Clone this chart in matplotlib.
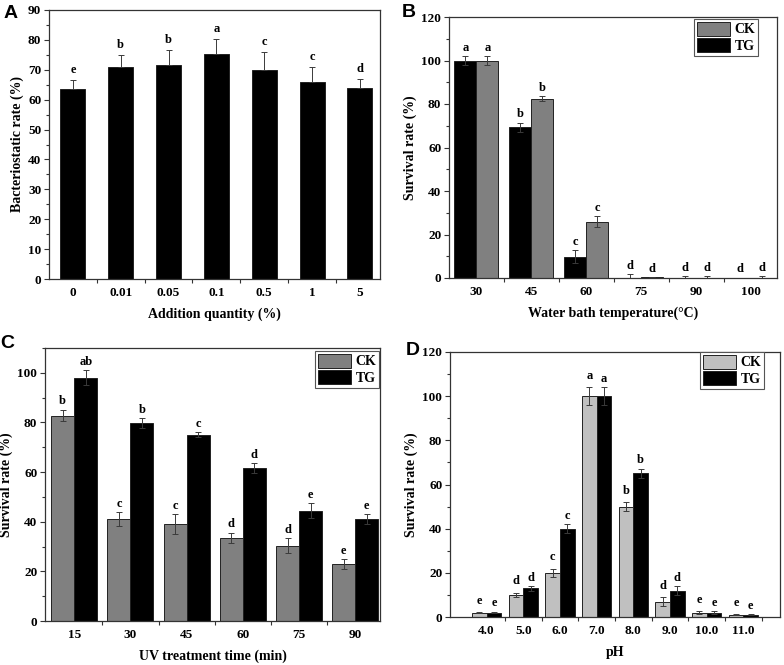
"""
Four-panel bar chart: bacteriostatic rate and survival rates (CK vs TG)
"""

import numpy as np
import matplotlib
matplotlib.use('Agg')
import matplotlib.pyplot as plt
from matplotlib.ticker import MultipleLocator

plt.rcParams['font.family'] = ['Liberation Serif', 'DejaVu Serif']
plt.rcParams['font.weight'] = 'bold'
plt.rcParams['axes.labelweight'] = 'bold'

# ---- panel A data ----
add_qty = ['0', '0.01', '0.05', '0.1', '0.5', '1', '5']
bacteriostatic = [63.5, 70.9, 71.7, 75.3, 69.9, 65.9, 63.9]
bacteriostatic_err = [3.0, 4.0, 5.0, 5.0, 6.0, 5.0, 3.0]
letters_a = ['e', 'b', 'b', 'a', 'c', 'c', 'd']

# ---- panel B data ----
water_temp = ['30', '45', '60', '75', '90', '100']
b_tg = [100.0, 69.3, 9.8, 0.0, 0.0, 0.0]
b_tg_err = [2.0, 2.0, 3.0, 1.7, 0.8, 0.0]
b_ck = [100.0, 82.5, 25.9, 0.3, 0.0, 0.0]
b_ck_err = [2.0, 1.0, 2.5, 0.0, 0.8, 0.8]
letters_b_tg = ['a', 'b', 'c', 'd', 'd', 'd']
letters_b_ck = ['a', 'b', 'c', 'd', 'd', 'd']

# ---- panel C data ----
uv_time = ['15', '30', '45', '60', '75', '90']
c_ck = [82.8, 41.0, 39.0, 33.6, 30.4, 22.9]
c_ck_err = [2.2, 2.8, 4.0, 2.0, 3.0, 2.0]
c_tg = [98.0, 79.6, 75.0, 61.6, 44.4, 41.0]
c_tg_err = [3.0, 2.0, 1.0, 2.0, 3.0, 2.0]
letters_c_ck = ['b', 'c', 'c', 'd', 'd', 'e']
letters_c_tg = ['ab', 'b', 'c', 'd', 'e', 'e']

# ---- panel D data ----
ph_values = ['4.0', '5.0', '6.0', '7.0', '8.0', '9.0', '10.0', '11.0']
d_ck = [2.0, 10.0, 19.9, 100.0, 50.0, 6.9, 2.0, 1.0]
d_ck_err = [0.3, 1.0, 2.0, 4.0, 2.0, 2.0, 0.5, 0.3]
d_tg = [2.0, 13.0, 40.0, 100.0, 65.0, 12.0, 2.0, 1.0]
d_tg_err = [0.3, 1.0, 2.0, 4.0, 2.0, 2.0, 0.5, 0.2]
letters_d_ck = ['e', 'd', 'c', 'a', 'b', 'd', 'e', 'e']
letters_d_tg = ['e', 'd', 'c', 'a', 'b', 'd', 'e', 'e']

W, H = 784, 665
SPINE = '#333333'
ERR = '#3a3a3a'
TICK_SIZE = 9.5


def make_axes(fig, left, top, right, bottom):
    """像素坐标 -> 轴"""
    return fig.add_axes([left / W, 1 - bottom / H, (right - left) / W, (bottom - top) / H])


def style_axes(ax, labels, xlim, ymax, major, minor, last_tick):
    ax.set_xlim(*xlim)
    ax.set_ylim(0, ymax)
    ax.set_xticks(np.arange(len(labels)))
    ax.set_xticklabels(labels)
    ax.set_xticks(np.arange(0.5, last_tick + 0.01, 1), minor=True)
    ax.yaxis.set_major_locator(MultipleLocator(major))
    ax.yaxis.set_minor_locator(MultipleLocator(minor))
    ax.tick_params(axis='x', which='major', length=0, pad=6, labelsize=TICK_SIZE)
    ax.tick_params(axis='x', which='minor', length=3, direction='out', width=0.8, color=SPINE)
    ax.tick_params(axis='y', which='major', length=3.5, direction='out', width=0.8,
                   color=SPINE, pad=2, labelsize=TICK_SIZE)
    ax.tick_params(axis='y', which='minor', length=2, direction='out', width=0.8, color=SPINE)
    for s in ax.spines.values():
        s.set_color(SPINE)
        s.set_linewidth(0.9)


def draw_bars(ax, x, vals, errs, color, width, letters, one_sided=False, offset=4):
    if one_sided:
        yerr = [np.zeros(len(errs)), errs]
    else:
        yerr = errs
    ax.bar(x, vals, width=width, color=color, edgecolor='#222222', linewidth=0.7,
           yerr=yerr, capsize=2.5, error_kw={'ecolor': ERR, 'elinewidth': 0.7, 'capthick': 0.7})
    for xi, v, e, t in zip(x, vals, errs, letters):
        ax.annotate(t, (xi, v + e), xytext=(0, offset), textcoords='offset points',
                    ha='center', va='baseline', fontsize=9, fontweight='bold')


def add_legend(ax, ck_color, anchor):
    ck = plt.Rectangle((0, 0), 1, 1, facecolor=ck_color, edgecolor='#222222', linewidth=0.7)
    tg = plt.Rectangle((0, 0), 1, 1, facecolor='black', edgecolor='#222222', linewidth=0.7)
    leg = ax.legend([ck, tg], ['CK', 'TG'], loc='upper right', bbox_to_anchor=anchor,
                    borderaxespad=0, fancybox=False, framealpha=1, edgecolor='#555555',
                    prop={'size': 10, 'weight': 'bold'}, handlelength=2.4,
                    handleheight=1.15, labelspacing=0.15, handletextpad=0.3,
                    borderpad=0.2)
    leg.get_frame().set_linewidth(0.8)


def plot_a(fig):
    ax = make_axes(fig, 49, 10, 380, 279)
    x = np.arange(len(add_qty))
    draw_bars(ax, x, bacteriostatic, bacteriostatic_err, 'black', 0.52, letters_a,
              one_sided=True, offset=5)
    style_axes(ax, add_qty, (-0.5, 6.42), 90, 10, 5, 5.5)
    ax.set_xlabel('Addition quantity (%)', fontsize=10, labelpad=6)
    ax.set_ylabel('Bacteriostatic rate (%)', fontsize=10, labelpad=3)


def plot_b(fig):
    ax = make_axes(fig, 449, 17, 777, 278)
    x = np.arange(len(water_temp))
    w = 0.4
    draw_bars(ax, x - w / 2, b_tg, b_tg_err, 'black', w, letters_b_tg)
    draw_bars(ax, x + w / 2, b_ck, b_ck_err, '#808080', w, letters_b_ck)
    style_axes(ax, water_temp, (-0.5, 5.47), 120, 20, 10, 4.5)
    ax.set_xlabel('Water bath temperature(°C)', fontsize=10, labelpad=6)
    ax.set_ylabel('Survival rate (%)', fontsize=10, labelpad=3)
    add_legend(ax, '#808080', ((758 - 449) / 328, 1 - 2 / 261))


def plot_c(fig):
    ax = make_axes(fig, 45, 348, 380, 621)
    x = np.arange(len(uv_time))
    w = 0.41
    draw_bars(ax, x - w / 2, c_ck, c_ck_err, '#808080', w, letters_c_ck)
    draw_bars(ax, x + w / 2, c_tg, c_tg_err, 'black', w, letters_c_tg)
    style_axes(ax, uv_time, (-0.52, 5.44), 110, 20, 10, 4.5)
    ax.set_xlabel('UV treatment time (min)', fontsize=10, labelpad=6)
    ax.set_ylabel('Survival rate (%)', fontsize=10, labelpad=3)
    add_legend(ax, '#808080', (1 - 1 / 335, 1 - 3 / 273))


def plot_d(fig):
    ax = make_axes(fig, 450, 352, 780, 617)
    x = np.arange(len(ph_values))
    w = 0.4
    draw_bars(ax, x - w / 2, d_ck, d_ck_err, '#c0c0c0', w, letters_d_ck, offset=6)
    draw_bars(ax, x + w / 2, d_tg, d_tg_err, 'black', w, letters_d_tg)
    style_axes(ax, ph_values, (-1.0, 8.0), 120, 20, 10, 7.5)
    ax.set_xlabel('pH', fontsize=10, labelpad=6)
    ax.set_ylabel('Survival rate (%)', fontsize=10, labelpad=3)
    add_legend(ax, '#c0c0c0', ((764 - 450) / 330, 1.0))


def main():
    fig = plt.figure(figsize=(W / 100, H / 100), dpi=100)

    plot_a(fig)
    plot_b(fig)
    plot_c(fig)
    plot_d(fig)

    # 面板字母
    for t, px, py in [('A', 4, 18), ('B', 402, 17), ('C', 0, 348), ('D', 406, 355)]:
        fig.text(px / W, 1 - py / H, t, fontsize=14, fontweight='bold',
                 family=['Liberation Sans', 'DejaVu Sans'], ha='left', va='baseline')

    fig.savefig('out.png', dpi=100)


if __name__ == '__main__':
    main()
